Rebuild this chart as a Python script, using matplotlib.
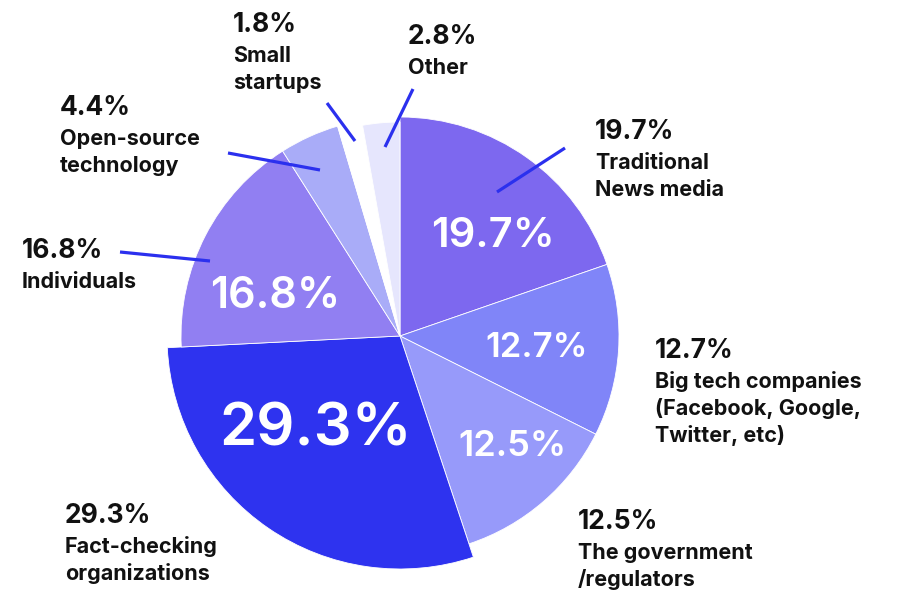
import matplotlib.pyplot as plt

W, H = 901, 594

# pie data, clockwise from 12 o'clock
shares = [19.7, 12.7, 12.5, 29.3, 16.8, 4.4, 1.8, 2.8]
names = [['Traditional', 'News media'],
         ['Big tech companies', '(Facebook, Google,', 'Twitter, etc)'],
         ['The government', '/regulators'],
         ['Fact-checking', 'organizations'],
         ['Individuals'],
         ['Open-source', 'technology'],
         ['Small', 'startups'],
         ['Other']]
colors = ['#7d68ef', '#8085f8', '#979afa', '#2e33ef',
          '#917ff2', '#a9acf8', '#ffffff', '#e6e6fd']
radii = [219, 219, 219, 233, 219, 219, 219, 214]

# outer label anchors (left x, baseline y of the percent line) in pixels
label_pos = [(595, 139), (655, 358), (578, 529), (65, 523),
             (22, 258), (60, 115), (233, 32), (408, 44)]
# leader lines, start and end in pixels (None = no line)
leaders = [((565, 148), (497, 192)), None, None, None,
           ((120, 252), (210, 261)), ((228, 153), (320, 170)),
           ((327, 103), (355, 141)), ((413, 89), (385, 147))]
# in-slice labels: centre and size
inner_pos = [(493, 236), (537, 348), (512, 446), (316, 430), (275, 297)]
inner_size = [30, 25, 26, 43, 31]

FONT = 'Inter'
LEADER = '#2b30ee'
INK = '#111111'


def Y(y):
    return H - y


fig = plt.figure(figsize=(W / 100, H / 100), dpi=100)
ax = fig.add_axes([0, 0, 1, 1])
wedges, _ = ax.pie(shares, colors=colors, startangle=90, counterclock=False,
                   center=(400, Y(336)), radius=219,
                   wedgeprops=dict(edgecolor='white', linewidth=0.6))
for w, r in zip(wedges, radii):
    w.set_radius(r)
ax.set_xlim(0, W)
ax.set_ylim(0, H)
ax.set_aspect('equal')
ax.axis('off')

for i, (x, y) in enumerate(inner_pos):
    ax.text(x, Y(y), '%.1f%%' % shares[i], color='white', fontsize=inner_size[i],
            fontweight='semibold', family=FONT, ha='center', va='center')

for i, (x, y) in enumerate(label_pos):
    ax.text(x, Y(y), '%.1f%%' % shares[i], fontsize=19, fontweight='bold',
            family=FONT, ha='left', va='baseline', color=INK)
    base = y + 30
    for line in names[i]:
        ax.text(x, Y(base), line, fontsize=15.5, fontweight='bold',
                family=FONT, ha='left', va='baseline', color=INK)
        base += 27
    if leaders[i] is not None:
        (x0, y0), (x1, y1) = leaders[i]
        ax.plot([x0, x1], [Y(y0), Y(y1)], color=LEADER, lw=2.3,
                solid_capstyle='butt')

fig.savefig('out.png', dpi=100)
